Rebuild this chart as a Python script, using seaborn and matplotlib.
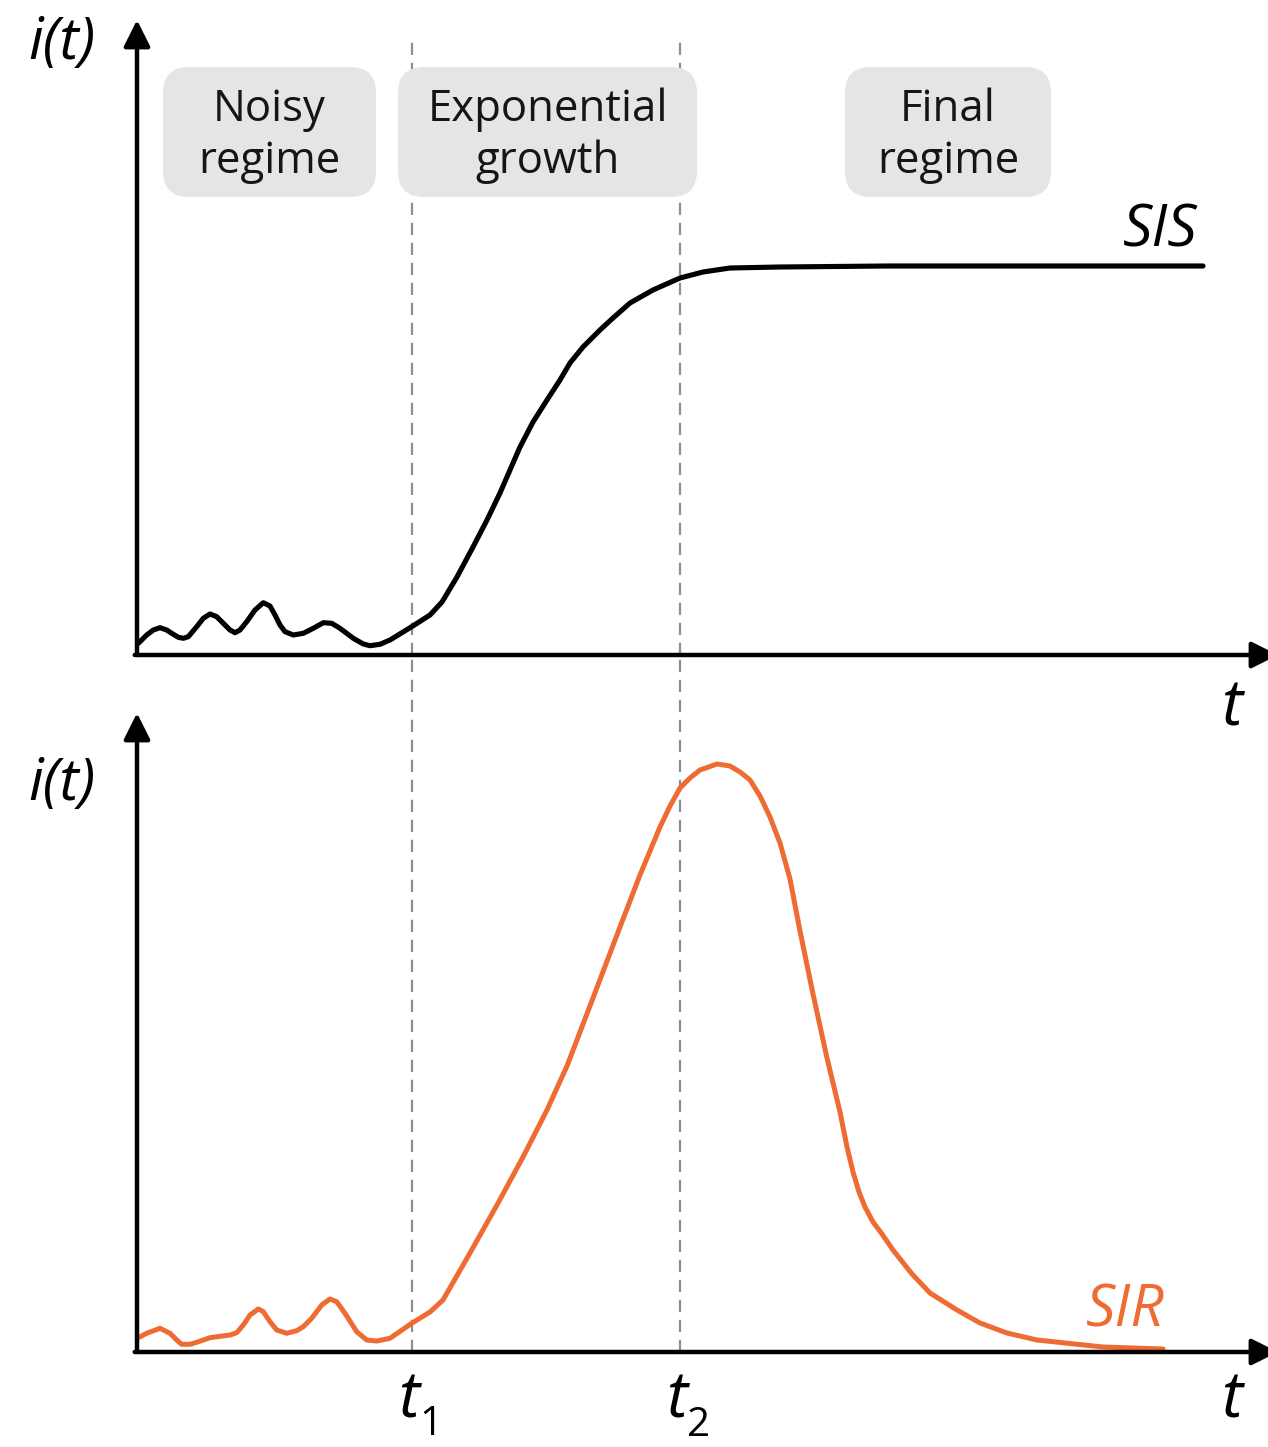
import matplotlib
matplotlib.use("Agg")
import matplotlib.pyplot as plt
from matplotlib.patches import FancyBboxPatch
import seaborn as sns
import pandas as pd

# SIS prevalence curve: noisy start, logistic rise, endemic plateau
sis_t = [0.013, 0.097, 0.163, 0.23, 0.297, 0.347, 0.413, 0.463, 0.513, 0.597,
         0.663, 0.73, 0.797, 0.863, 0.93, 0.98, 1.03, 1.097, 1.18, 1.263,
         1.33, 1.38, 1.43, 1.48, 1.563, 1.663, 1.763, 1.863, 1.947, 2.03,
         2.163, 2.263, 2.33, 2.43, 2.53, 2.747, 2.93, 3.05, 3.20, 3.36,
         3.50, 3.63, 3.73, 3.83, 3.96, 4.10, 4.23, 4.33, 4.46, 4.63,
         4.76, 4.93, 5.16, 5.43, 5.66, 5.93, 6.43, 7.50, 9.00, 10.66]
sis_i = [0.117, 0.20, 0.25, 0.273, 0.25, 0.217, 0.177, 0.167, 0.183, 0.283,
         0.367, 0.41, 0.383, 0.317, 0.25, 0.223, 0.25, 0.333, 0.45, 0.523,
         0.49, 0.40, 0.30, 0.233, 0.20, 0.217, 0.267, 0.323, 0.317, 0.267,
         0.167, 0.11, 0.093, 0.107, 0.15, 0.283, 0.40, 0.53, 0.78, 1.08,
         1.35, 1.62, 1.85, 2.08, 2.33, 2.55, 2.75, 2.92, 3.08, 3.25,
         3.37, 3.52, 3.65, 3.77, 3.83, 3.87, 3.88, 3.89, 3.89, 3.89]

# SIR prevalence curve: noisy start, epidemic peak, decay to zero
sir_t = [0.0, 0.097, 0.23, 0.33, 0.397, 0.447, 0.53, 0.597, 0.73, 0.93,
         0.997, 1.063, 1.13, 1.213, 1.263, 1.33, 1.397, 1.497, 1.597, 1.663,
         1.747, 1.847, 1.93, 1.997, 2.08, 2.197, 2.297, 2.397, 2.53, 2.747,
         2.93, 3.06, 3.33, 3.60, 3.86, 4.10, 4.30, 4.56, 4.83, 5.03,
         5.23, 5.33, 5.43, 5.53, 5.63, 5.80, 5.93, 6.03, 6.13, 6.23,
         6.33, 6.43, 6.53, 6.63, 6.76, 6.90, 7.03, 7.10, 7.16, 7.22,
         7.28, 7.36, 7.45, 7.56, 7.75, 7.93, 8.20, 8.43, 8.70, 9.00,
         9.66, 10.26]
sir_i = [0.137, 0.187, 0.237, 0.187, 0.12, 0.077, 0.077, 0.097, 0.143, 0.17,
         0.193, 0.27, 0.37, 0.43, 0.403, 0.303, 0.22, 0.187, 0.213, 0.253,
         0.337, 0.47, 0.53, 0.503, 0.387, 0.203, 0.12, 0.11, 0.137, 0.287,
         0.40, 0.52, 0.99, 1.47, 1.95, 2.42, 2.86, 3.54, 4.25, 4.77,
         5.25, 5.46, 5.64, 5.74, 5.82, 5.88, 5.86, 5.80, 5.72, 5.56,
         5.35, 5.09, 4.73, 4.21, 3.58, 2.94, 2.40, 2.05, 1.80, 1.60,
         1.45, 1.30, 1.18, 1.02, 0.78, 0.59, 0.42, 0.29, 0.19, 0.12,
         0.05, 0.03]

# regime boundaries
t1, t2 = 2.75, 5.43

# regime boxes: (label, t_left, t_right)
regimes = [("Noisy\nregime", 0.26, 2.39),
           ("Exponential\ngrowth", 2.61, 5.60),
           ("Final\nregime", 7.08, 9.14)]

ORANGE = "#EE6B33"
GREY_DASH = "#8f8f8f"
BOX_FILL = "#e5e5e5"

sns.set_theme(style="white")
plt.rcParams["font.family"] = ["Open Sans", "DejaVu Sans"]

W, H = 1268, 1447
fig = plt.figure(figsize=(W / 100, H / 100), dpi=100)

def px_axes(x0, x1, y_top, y_bot):
    return fig.add_axes([x0 / W, 1 - y_bot / H, (x1 - x0) / W, (y_bot - y_top) / H])

ax_top = px_axes(137, 1278, 20, 655)
ax_bot = px_axes(137, 1278, 713, 1352)
ax_top.set_xlim(0, 11.41)
ax_top.set_ylim(0, 6.35)
ax_bot.set_xlim(0, 11.41)
ax_bot.set_ylim(0, 6.39)

for ax in (ax_top, ax_bot):
    ax.set_facecolor("none")
    for s in ax.spines.values():
        s.set_visible(False)
    ax.set_xticks([])
    ax.set_yticks([])
    arrow = dict(arrowstyle="-|>", lw=3.2, color="black", mutation_scale=40,
                 shrinkA=0, shrinkB=0)
    ax.annotate("", xy=(0, 1), xytext=(0, 0), xycoords="axes fraction",
                arrowprops=arrow, annotation_clip=False, zorder=5)
    ax.annotate("", xy=(1, 0), xytext=(-0.002, 0), xycoords="axes fraction",
                arrowprops=arrow, annotation_clip=False, zorder=5)

# dashed regime boundaries spanning both panels
for tb in (t1, t2):
    ax_top.axvline(tb, ymin=0, ymax=0.9685, color=GREY_DASH, lw=1.6,
                   dashes=(5.5, 3.5), zorder=1)
    ax_bot.axvline(tb, ymin=0, ymax=1.0908, color=GREY_DASH, lw=1.6,
                   dashes=(5.5, 3.5), zorder=1, clip_on=False)

# regime boxes with labels
box_lo, box_hi = 4.58, 5.88
for label, a, b in regimes:
    ax_top.add_patch(FancyBboxPatch((a, box_lo), b - a, box_hi - box_lo,
                                    boxstyle="round,pad=0,rounding_size=0.26",
                                    facecolor=BOX_FILL, edgecolor="none", zorder=2))
    ax_top.text((a + b) / 2, (box_lo + box_hi) / 2 - 0.04, label, ha="center",
                va="center", fontsize=31.5, color="#151515", linespacing=1.22,
                zorder=3)

df_sis = pd.DataFrame({"t": sis_t, "i": sis_i})
df_sir = pd.DataFrame({"t": sir_t, "i": sir_i})
sns.lineplot(data=df_sis, x="t", y="i", ax=ax_top, color="black", lw=3.7,
             estimator=None, sort=False, zorder=4,
             solid_joinstyle="round", solid_capstyle="round")
sns.lineplot(data=df_sir, x="t", y="i", ax=ax_bot, color=ORANGE, lw=3.6,
             estimator=None, sort=False, zorder=4,
             solid_joinstyle="round", solid_capstyle="round")
for ax in (ax_top, ax_bot):
    ax.set_xlabel("")
    ax.set_ylabel("")

ital = dict(style="italic", clip_on=False, ha="center", va="center")

# curve names
ax_top.text(10.23, 4.24, "SIS", fontsize=42, color="black", **ital)
ax_bot.text(9.88, 0.41, "SIR", fontsize=42, color=ORANGE, **ital)

# axis labels
ax_top.text(-0.75, 6.11, "i(t)", fontsize=42, color="black", **ital)
ax_bot.text(-0.75, 5.67, "i(t)", fontsize=42, color="black", **ital)
ax_top.text(10.95, -0.54, "t", fontsize=46, color="black", **ital)
ax_bot.text(10.95, -0.49, "t", fontsize=46, color="black", **ital)

# boundary tick labels
ax_bot.text(t1 - 0.03, -0.48, "t", fontsize=46, color="black", **ital)
ax_bot.text(t1 + 0.19, -0.73, "1", fontsize=29, color="black",
            ha="center", va="center", clip_on=False)
ax_bot.text(t2 - 0.03, -0.48, "t", fontsize=46, color="black", **ital)
ax_bot.text(t2 + 0.19, -0.74, "2", fontsize=29, color="black",
            ha="center", va="center", clip_on=False)

fig.savefig("out.png", dpi=100)
